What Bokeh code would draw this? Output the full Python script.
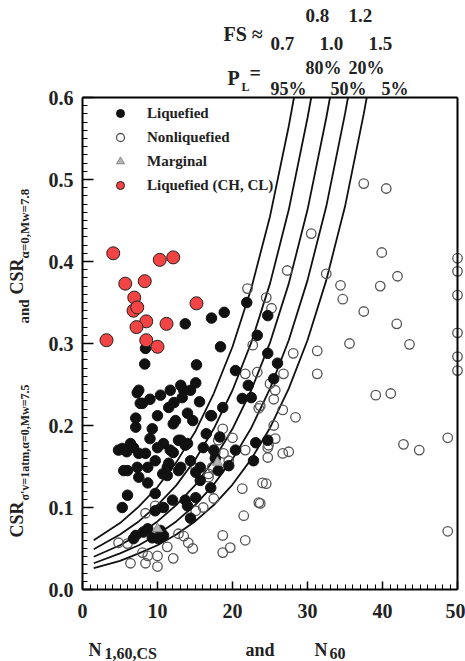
from math import pi
from bokeh.plotting import figure
from bokeh.models import (Range1d, FixedTicker, NumeralTickFormatter, Label, Legend, LegendItem,
                          LinearAxis)
from bokeh.embed import file_html
from bokeh.resources import INLINE

# ---------------- data ----------------
x_ticks = [0, 10, 20, 30, 40, 50]
y_ticks = [0.0, 0.1, 0.2, 0.3, 0.4, 0.5, 0.6]

liq_n = [8.4, 8.3, 13.7, 17.2, 18.9, 21.9, 18.4, 15.2, 24.7, 23.3, 24.7, 26.0, 25.5, 20.4, 22.1, 21.3,
         22.5, 18.7, 17.2, 15.1, 13.5, 15.6, 13.1, 14.4, 14.7, 14.0, 13.3, 11.7, 11.5, 10.4, 10.0, 7.5,
         7.7, 7.1, 7.1, 9.3, 12.1, 13.1, 14.0, 10.8, 10.0, 11.7, 5.3, 6.4, 7.5, 8.0, 12.4, 17.1,
         7.3, 9.0, 12.2, 6.0, 7.3, 8.7, 11.3, 13.1, 14.4, 15.7, 17.7, 19.5, 20.4, 22.8, 24.7, 16.1,
         8.4, 12.8, 13.7, 12.1, 17.5, 23.1, 5.5, 9.7, 11.5, 10.7, 12.8, 15.1, 15.7, 18.1, 7.5, 8.7,
         11.3, 6.0, 5.3, 9.7, 10.8, 12.0, 13.7, 15.1, 17.1, 9.7, 14.4, 14.0, 7.1, 8.1, 9.3, 10.1,
         10.8, 8.7, 6.8, 10.4, 4.8, 5.9, 6.8, 9.0, 16.5, 18.3]
liq_csr = [0.294, 0.275, 0.324, 0.331, 0.338, 0.350, 0.296, 0.274, 0.334, 0.310, 0.288, 0.276, 0.257, 0.267, 0.249, 0.233,
           0.234, 0.222, 0.212, 0.252, 0.243, 0.229, 0.249, 0.243, 0.206, 0.215, 0.234, 0.243, 0.222, 0.237, 0.212, 0.243,
           0.227, 0.209, 0.198, 0.196, 0.202, 0.182, 0.178, 0.178, 0.173, 0.170, 0.172, 0.178, 0.166, 0.227, 0.206, 0.212,
           0.240, 0.232, 0.228, 0.145, 0.149, 0.149, 0.149, 0.149, 0.157, 0.149, 0.160, 0.151, 0.170, 0.157, 0.182, 0.173,
           0.166, 0.182, 0.176, 0.167, 0.170, 0.179, 0.145, 0.157, 0.154, 0.141, 0.145, 0.143, 0.133, 0.145, 0.137, 0.130,
           0.139, 0.115, 0.100, 0.117, 0.100, 0.109, 0.109, 0.112, 0.124, 0.096, 0.087, 0.102, 0.066, 0.070, 0.063, 0.062,
           0.066, 0.074, 0.062, 0.072, 0.170, 0.168, 0.173, 0.184, 0.190, 0.186]

nonliq_n = [34.4, 34.7, 37.5, 39.7, 41.9, 43.6, 35.6, 31.3, 31.3, 28.1, 39.1, 41.1, 42.8, 44.9, 48.7, 50.0,
            50.0, 50.0, 50.0, 50.0, 50.0, 24.5, 25.2, 26.8, 25.7, 26.7, 28.4, 25.7, 24.7, 24.7, 26.7, 27.5,
            24.5, 23.7, 48.7, 37.5, 40.5, 30.5, 39.9, 42.0, 27.3, 32.5, 22.0, 22.7, 21.7, 23.3, 25.0, 23.7,
            18.7, 18.1, 18.8, 21.7, 23.5, 24.0, 21.3, 23.5, 21.5, 17.5, 16.1, 16.8, 8.4, 18.7, 21.7, 19.7,
            18.7, 12.8, 14.1, 14.7, 12.1, 10.0, 8.7, 6.0, 4.8, 8.0, 8.4, 10.0, 6.4, 9.7, 15.1, 17.3,
            15.1, 20.0, 25.5, 24.8, 17.7, 19.5, 16.8, 25.5, 11.3, 13.5]
nonliq_csr = [0.371, 0.354, 0.339, 0.370, 0.324, 0.299, 0.300, 0.291, 0.263, 0.288, 0.237, 0.239, 0.177, 0.170, 0.185, 0.404,
              0.388, 0.359, 0.313, 0.284, 0.267, 0.356, 0.343, 0.263, 0.243, 0.219, 0.210, 0.184, 0.173, 0.161, 0.166, 0.168,
              0.129, 0.105, 0.071, 0.495, 0.489, 0.434, 0.411, 0.382, 0.389, 0.385, 0.367, 0.298, 0.263, 0.265, 0.251, 0.224,
              0.196, 0.182, 0.166, 0.170, 0.221, 0.130, 0.123, 0.106, 0.090, 0.111, 0.100, 0.137, 0.093, 0.066, 0.060, 0.051,
              0.045, 0.068, 0.057, 0.050, 0.038, 0.041, 0.041, 0.056, 0.057, 0.045, 0.032, 0.028, 0.032, 0.102, 0.096, 0.149,
              0.148, 0.185, 0.200, 0.176, 0.167, 0.157, 0.141, 0.232, 0.052, 0.065]

marg_n = [18.0, 10.0]
marg_csr = [0.155, 0.074]

clay_n = [4.1, 10.3, 12.1, 5.7, 8.3, 6.9, 6.8, 7.3, 8.5, 7.2, 11.2, 15.2, 3.2, 8.5, 10.0]
clay_csr = [0.410, 0.402, 0.405, 0.373, 0.376, 0.356, 0.340, 0.344, 0.327, 0.320, 0.324, 0.349, 0.304, 0.304, 0.296]

# probability curves (P_L = 95 %, 80 %, 50 %, 20 %, 5 %)
c95_n = [1.5, 5, 7.5, 10, 12.5, 15, 17.5, 20, 22.5, 25, 27.5, 28.2]
c95_csr = [0.060, 0.081, 0.101, 0.125, 0.155, 0.192, 0.239, 0.296, 0.367, 0.455, 0.565, 0.600]
c80_n = [1.5, 5, 7.5, 10, 12.5, 15, 17.5, 20, 22.5, 25, 27.5, 30, 30.5]
c80_csr = [0.049, 0.067, 0.083, 0.103, 0.127, 0.158, 0.196, 0.243, 0.301, 0.373, 0.463, 0.575, 0.600]
c50_n = [1.5, 5, 7.5, 10, 12.5, 15, 17.5, 20, 22.5, 25, 27.5, 30, 32.5, 33.0]
c50_csr = [0.040, 0.054, 0.067, 0.083, 0.103, 0.127, 0.158, 0.196, 0.243, 0.301, 0.373, 0.463, 0.575, 0.600]
c20_n = [1.5, 5, 7.5, 10, 12.5, 15, 17.5, 20, 22.5, 25, 27.5, 30, 32.5, 35, 35.4]
c20_csr = [0.032, 0.044, 0.054, 0.067, 0.083, 0.103, 0.128, 0.159, 0.197, 0.245, 0.304, 0.377, 0.467, 0.580, 0.600]
c5_n = [1.5, 5, 7.5, 10, 12.5, 15, 17.5, 20, 22.5, 25, 27.5, 30, 32.5, 35, 37.5, 37.9]
c5_csr = [0.026, 0.035, 0.044, 0.054, 0.067, 0.083, 0.103, 0.128, 0.159, 0.197, 0.245, 0.304, 0.377, 0.467, 0.580, 0.600]

# ---------------- layout: the frame covers the whole canvas ----------------
W, H = 465, 661
FL, FB = 82, 589            # page pixel of N = 0 / CSR = 0
PX_N, PX_CSR = 7.5, 820.0   # pixels per unit
FONT = "Liberation Serif"
INK = "#222222"

x0 = -FL / PX_N
x1 = (W - FL) / PX_N
y0 = (FB - H) / PX_CSR
y1 = FB / PX_CSR

p = figure(width=W, height=H, x_range=Range1d(x0, x1), y_range=Range1d(y0, y1),
           output_backend="svg", toolbar_location=None,
           min_border=0, min_border_left=0, min_border_right=0, min_border_top=0, min_border_bottom=0,
           background_fill_color="white", border_fill_color="white")
p.grid.visible = False
p.outline_line_color = None

for xs, ys in [(c95_n, c95_csr), (c80_n, c80_csr), (c50_n, c50_csr), (c20_n, c20_csr), (c5_n, c5_csr)]:
    p.line(xs, ys, line_color="#111111", line_width=1.8)

r_non = p.scatter(nonliq_n, nonliq_csr, marker="circle", size=9.5, fill_alpha=0,
                  line_color="#555555", line_width=1.3)
r_liq = p.scatter(liq_n, liq_csr, marker="circle", size=10.5, fill_color="#111111", line_color="#111111")
r_marg = p.scatter(marg_n, marg_csr, marker="triangle", size=10, fill_color="#b4b4b4", line_color="#8a8a8a")
r_clay = p.scatter(clay_n, clay_csr, marker="circle", size=13, fill_color="#f24444",
                   line_color="#222222", line_width=1)

# axes drawn at the data frame (0..50, 0..0.6)
xa = p.xaxis[0]
ya = p.yaxis[0]
xa.fixed_location = 0
ya.fixed_location = 0
xa.bounds = (0, 50)
ya.bounds = (0, 0.6)
xa.ticker = FixedTicker(ticks=x_ticks, minor_ticks=list(range(0, 51)))
ya.ticker = FixedTicker(ticks=y_ticks, minor_ticks=[i / 100 for i in range(61)])
ya.formatter = NumeralTickFormatter(format="0.0")
for ax in (xa, ya):
    ax.major_tick_out = 0
    ax.minor_tick_out = 0
    ax.minor_tick_in = 5
    ax.axis_line_width = 2
    ax.axis_line_color = "black"
    ax.major_tick_line_width = 1.5
    ax.minor_tick_line_width = 1
    ax.major_label_text_font = FONT
    ax.major_label_text_font_style = "bold"
    ax.major_label_text_font_size = "20px"
    ax.major_label_text_color = INK
xa.major_tick_in = 8
ya.major_tick_in = 11
xa.major_label_standoff = 14
ya.major_label_standoff = 9

# top and right frame lines
top = LinearAxis(fixed_location=0.6, bounds=(0, 50), ticker=FixedTicker(ticks=[]),
                 major_label_text_font_size="0px", major_tick_in=0, major_tick_out=0,
                 minor_tick_in=0, minor_tick_out=0, axis_line_width=2, axis_line_color="black")
right = LinearAxis(fixed_location=50, bounds=(0, 0.6), ticker=FixedTicker(ticks=[]),
                   major_label_text_font_size="0px", major_tick_in=0, major_tick_out=0,
                   minor_tick_in=0, minor_tick_out=0, axis_line_width=2, axis_line_color="black")
p.add_layout(top, "above")
p.add_layout(right, "right")

# legend
legend = Legend(items=[LegendItem(label="Liquefied", renderers=[r_liq]),
                       LegendItem(label="Nonliquefied", renderers=[r_non]),
                       LegendItem(label="Marginal", renderers=[r_marg]),
                       LegendItem(label="Liquefied (CH, CL)", renderers=[r_clay])],
                location="top_left", margin=103, padding=0, spacing=4,
                glyph_width=34, glyph_height=20, label_height=20, label_standoff=10,
                border_line_color=None, background_fill_alpha=0,
                label_text_font=FONT, label_text_font_style="bold",
                label_text_font_size="15px", label_text_color=INK)
p.add_layout(legend)


# text annotations positioned in page pixels
def lab(text, px, py, size, angle=0.0):
    p.add_layout(Label(x=(px - FL) / PX_N, y=(FB - py) / PX_CSR, x_units="data", y_units="data",
                       text=text, text_font=FONT, text_font_size=f"{size}px", text_font_style="bold",
                       text_color=INK, text_align="left", text_baseline="alphabetic", angle=angle))


# top annotation block
lab("FS ≈", 223, 33, 20)
lab("0.8", 305, 15, 19)
lab("1.2", 348, 15, 19)
lab("0.7", 270, 43, 19)
lab("1.0", 319, 43, 19)
lab("1.5", 368, 43, 19)
lab("P", 227, 77, 20)
lab("L", 241, 86, 12)
lab("=", 249, 72, 20)
lab("80%", 305, 67, 18)
lab("20%", 348, 67, 18)
lab("95%", 270, 88, 18)
lab("50%", 330, 88, 18)
lab("5%", 381, 88, 18)

# y axis title (rotated)
lab("CSR", 16, 537, 18, pi / 2)
lab("σ'v=1atm,α=0,Mw=7.5", 24, 500, 12, pi / 2)
lab("and", 23, 323, 15, pi / 2)
lab("CSR", 16, 294, 18, pi / 2)
lab("α=0,Mw=7.8", 24, 258, 13, pi / 2)

# x axis title
lab("N", 88, 649, 18)
lab("1,60,CS", 104, 653, 16)
lab("and", 245, 649, 18)
lab("N", 314, 649, 18)
lab("60", 329, 653, 16)

open("out.html", "w").write(file_html(p, INLINE))
